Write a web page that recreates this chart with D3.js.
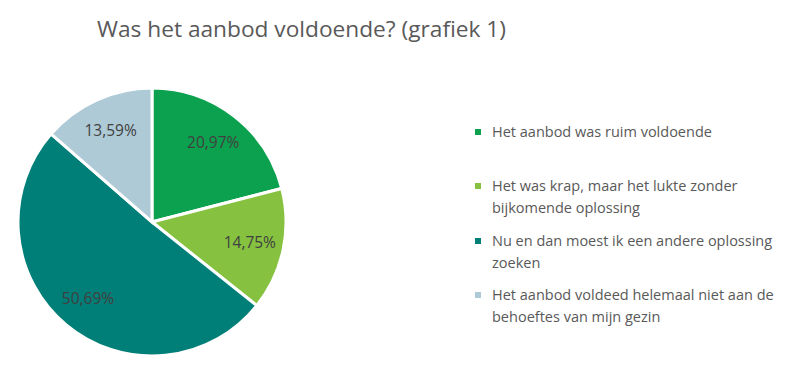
<!DOCTYPE html>
<html lang="nl">
<head>
<meta charset="UTF-8">
<title>Was het aanbod voldoende?</title>
<style>
  body { margin: 0; background: #fff; }
  text { font-family: "Open Sans", "Liberation Sans", sans-serif; }
</style>
</head>
<body>
<svg id="svg" width="800" height="371"></svg>
<script src="https://d3js.org/d3.v7.min.js"></script>
<script>
  const categories = [
    'Het aanbod was ruim voldoende',
    'Het was krap, maar het lukte zonder bijkomende oplossing',
    'Nu en dan moest ik een andere oplossing zoeken',
    'Het aanbod voldeed helemaal niet aan de behoeftes van mijn gezin'
  ]
  const values = [20.97, 14.75, 50.69, 13.59]
  const legendLines = [
    ['Het aanbod was ruim voldoende'],
    ['Het was krap, maar het lukte zonder', 'bijkomende oplossing'],
    ['Nu en dan moest ik een andere oplossing', 'zoeken'],
    ['Het aanbod voldeed helemaal niet aan de', 'behoeftes van mijn gezin']
  ]
  const colors = ['#0ca14f', '#86c240', '#007f78', '#aecad6']

  const svg = d3.select('#svg')

  svg.append('text')
    .attr('x', 97).attr('y', 37)
    .attr('font-size', 22.7)
    .attr('fill', '#595959')
    .text('Was het aanbod voldoende? (grafiek 1)')

  const color = d3.scaleOrdinal().domain(categories).range(colors)

  const pie = d3.pie().sort(null).value(d => d.value)
  const data = categories.map((c, i) => ({ name: c, value: values[i] }))
  const arcs = pie(data)

  const r = 134
  const arc = d3.arc().innerRadius(0).outerRadius(r)
  const labelArc = d3.arc().innerRadius(100).outerRadius(100)

  const g = svg.append('g').attr('transform', 'translate(152,222)')

  g.selectAll('path')
    .data(arcs)
    .enter()
    .append('path')
    .attr('d', arc)
    .attr('fill', d => color(d.data.name))
    .attr('stroke', '#fff')
    .attr('stroke-width', 3)

  g.selectAll('text.lbl')
    .data(arcs)
    .enter()
    .append('text')
    .attr('class', 'lbl')
    .attr('transform', d => `translate(${labelArc.centroid(d)})`)
    .attr('text-anchor', 'middle')
    .attr('dy', '0.35em')
    .attr('font-size', 15.5)
    .attr('fill', '#404040')
    .text(d => d.data.value.toFixed(2).replace('.', ',') + '%')

  // legend
  const legendY = [132, 186, 241, 295]
  const leg = svg.append('g')
  categories.forEach((c, i) => {
    const item = leg.append('g').attr('transform', `translate(478,${legendY[i]})`)
    item.append('rect')
      .attr('x', -3).attr('y', -3)
      .attr('width', 6).attr('height', 6)
      .attr('fill', color(c))
    item.append('text')
      .attr('x', 14)
      .attr('font-size', 14.5)
      .attr('fill', '#595959')
      .selectAll('tspan')
      .data(legendLines[i])
      .enter()
      .append('tspan')
      .attr('x', 14)
      .attr('y', (d, j) => j * 22)
      .attr('dy', '0.35em')
      .text(d => d)
  })
</script>
</body>
</html>
